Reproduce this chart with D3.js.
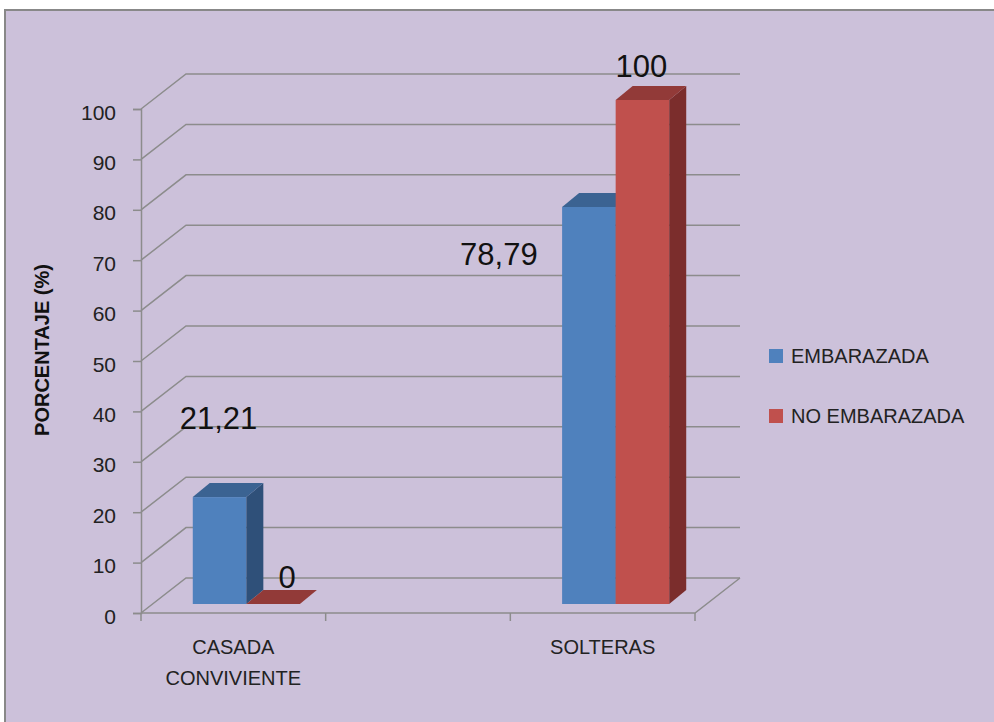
<!DOCTYPE html>
<html>
<head>
<meta charset="utf-8">
<script src="https://cdn.jsdelivr.net/npm/d3@7"></script>
<style>
  body { margin: 0; background: #fff; }
  svg { display: block; font-family: "Liberation Sans", Arial, sans-serif; }
</style>
</head>
<body>
<svg id="chart"></svg>
<script>
// data
var categories = ["CASADA CONVIVIENTE", "", "SOLTERAS"];
var categoryLines = [["CASADA", "CONVIVIENTE"], [], ["SOLTERAS"]];
var seriesNames = ["EMBARAZADA", "NO EMBARAZADA"];
var embarazada = [21.21, null, 78.79];
var noEmbarazada = [0, null, 100];
var yTickValues = [0, 10, 20, 30, 40, 50, 60, 70, 80, 90, 100];

var width = 994, height = 722;
var colors = [
   { front: "#4f81bd", top: "#3b6392", side: "#2f5079" },
   { front: "#c0504d", top: "#923a38", side: "#7b2d2c" },
];

// 3d offsets (floor depth, bar position inside it)
var depth = { dx: 45, dy: -35 };
var barFront = { dx: 13, dy: -9 };
var barDepth = { dx: 17, dy: -14 };

// label nudges from bar top-center (Excel places them a bit oddly)
var labelNudge = [
   [[-1, -68], [14, -16]],
   [null, null],
   [[-90, 58], [-1, -23]],
];

var svg = d3.select("#chart").attr("width", width).attr("height", height);

svg.append("rect")
   .attr("x", 5).attr("y", 10)
   .attr("width", width).attr("height", height)
   .attr("fill", "#ccc1da")
   .attr("stroke", "#888").attr("stroke-width", 2);

var y = d3.scaleLinear().domain([0, 100]).range([613, 109]);
var x = d3.scaleBand().domain(d3.range(categories.length)).range([141, 695]);

var gridColor = "#8c8c8c";

// back wall + side wall grid lines
svg.append("g").selectAll("path")
   .data(yTickValues)
   .join("path")
   .attr("fill", "none")
   .attr("stroke", gridColor)
   .attr("stroke-width", 1.5)
   .attr("d", function (d) {
      var yy = y(d);
      return "M" + 141 + "," + yy +
         "L" + (141 + depth.dx) + "," + (yy + depth.dy) +
         "L" + (695 + depth.dx) + "," + (yy + depth.dy);
   });

// floor edges
svg.append("path")
   .attr("fill", "none")
   .attr("stroke", gridColor)
   .attr("stroke-width", 1.5)
   .attr("d", "M141," + y(0) + "L695," + y(0) + "L" + (695 + depth.dx) + "," + (y(0) + depth.dy));

// y axis
var yAxis = svg.append("g")
   .attr("transform", "translate(141,0)")
   .call(d3.axisLeft(y).tickValues(yTickValues).tickSize(8).tickPadding(17));
yAxis.select(".domain").attr("stroke", gridColor).attr("stroke-width", 1.5);
yAxis.selectAll(".tick line").attr("stroke", gridColor).attr("stroke-width", 1.5);
yAxis.selectAll(".tick text")
   .attr("font-size", 21)
   .attr("font-family", "Liberation Sans, Arial, sans-serif")
   .attr("fill", "#222")
   .attr("dy", "0.48em");

// category ticks
var catTicks = x.domain().map(function (d) { return x(d); }).concat([x.range()[1]]);
svg.append("g").selectAll("line")
   .data(catTicks)
   .join("line")
   .attr("x1", function (d) { return d; })
   .attr("x2", function (d) { return d; })
   .attr("y1", y(0)).attr("y2", y(0) + 8)
   .attr("stroke", gridColor).attr("stroke-width", 1.5);

// category labels
svg.append("g").selectAll("text")
   .data(categoryLines)
   .join("text")
   .attr("text-anchor", "middle")
   .attr("font-size", 20)
   .attr("fill", "#222")
   .each(function (lines, i) {
      d3.select(this).selectAll("tspan")
         .data(lines)
         .join("tspan")
         .attr("x", x(i) + x.bandwidth() / 2)
         .attr("y", function (l, j) { return 654 + j * 31; })
         .text(function (l) { return l; });
   });

// bars
var groupW = x.bandwidth() * 0.58;
var xs = d3.scaleBand().domain([0, 1]).range([0, groupW]);
var seriesValues = [embarazada, noEmbarazada];
var fmt = function (v) { return String(v).replace(".", ","); };

var bars = [];
categories.forEach(function (c, i) {
   seriesValues.forEach(function (vals, s) {
      if (vals[i] == null) return;
      bars.push({ cat: i, s: s, v: vals[i] });
   });
});

var barG = svg.append("g");
bars.forEach(function (b) {
   var x0 = x(b.cat) + (x.bandwidth() - groupW) / 2 + barFront.dx + xs(b.s);
   var x1 = x0 + xs.bandwidth();
   var yt = y(b.v) + barFront.dy;
   var yb = y(0) + barFront.dy;
   var col = colors[b.s];
   var g = barG.append("g");
   if (yb - yt > 0) {
      g.append("rect")
         .attr("x", x0).attr("y", yt)
         .attr("width", x1 - x0).attr("height", yb - yt)
         .attr("fill", col.front);
      g.append("path")
         .attr("fill", col.side)
         .attr("d", "M" + x1 + "," + yt + "L" + (x1 + barDepth.dx) + "," + (yt + barDepth.dy) +
            "L" + (x1 + barDepth.dx) + "," + (yb + barDepth.dy) + "L" + x1 + "," + yb + "Z");
   }
   g.append("path")
      .attr("fill", col.top)
      .attr("d", "M" + x0 + "," + yt + "L" + x1 + "," + yt +
         "L" + (x1 + barDepth.dx) + "," + (yt + barDepth.dy) +
         "L" + (x0 + barDepth.dx) + "," + (yt + barDepth.dy) + "Z");
   b.cx = (x0 + x1) / 2;
   b.top = yt;
});

// value labels
svg.append("g").selectAll("text")
   .data(bars)
   .join("text")
   .attr("text-anchor", "middle")
   .attr("font-size", 31)
   .attr("fill", "#111")
   .attr("x", function (b) { return b.cx + labelNudge[b.cat][b.s][0]; })
   .attr("y", function (b) { return b.top + labelNudge[b.cat][b.s][1]; })
   .text(function (b) { return fmt(b.v); });

// y title
svg.append("text")
   .attr("transform", "translate(49,350) rotate(-90)")
   .attr("text-anchor", "middle")
   .attr("font-size", 20)
   .attr("font-weight", "bold")
   .attr("fill", "#111")
   .text("PORCENTAJE (%)");

// legend
var legend = svg.append("g").selectAll("g")
   .data(seriesNames)
   .join("g")
   .attr("transform", function (d, i) { return "translate(769," + (349 + i * 60) + ")"; });
legend.append("rect")
   .attr("width", 14).attr("height", 14)
   .attr("fill", function (d, i) { return colors[i].front; });
legend.append("text")
   .attr("x", 22).attr("y", 14)
   .attr("font-size", 20)
   .attr("fill", "#222")
   .text(function (d) { return d; });
</script>
</body>
</html>
